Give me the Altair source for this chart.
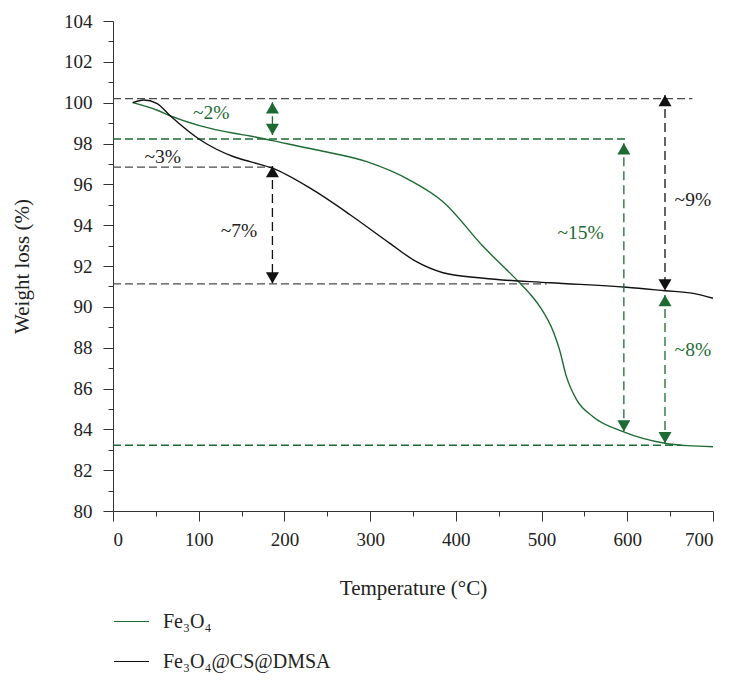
import altair as alt
import pandas as pd

FONT = "Liberation Serif"
GREEN = "#1d6a33"
BLACK = "#111111"
GRAY = "#4a4a4a"

# ---- curves ----
fe_temp = [23, 51, 67, 102, 141, 160, 186, 238, 296, 346, 385, 432, 475, 486, 498, 514, 521, 529, 541, 560, 595, 644, 670, 700]
fe_wt = [100.0, 99.64, 99.35, 98.86, 98.5, 98.37, 98.14, 97.68, 97.11, 96.21, 95.15, 92.95, 91.15, 90.66, 90.01, 88.75, 87.89, 86.58, 85.44, 84.62, 83.89, 83.32, 83.2, 83.15]

cs_temp = [23, 36, 51, 67, 102, 141, 160, 186, 230, 277, 323, 354, 385, 432, 510, 599, 644, 677, 700]
cs_wt = [100.0, 100.13, 99.97, 99.35, 98.17, 97.35, 97.11, 96.79, 95.81, 94.5, 93.11, 92.21, 91.67, 91.4, 91.18, 90.96, 90.79, 90.66, 90.42]

series_names = ["Fe\u2083O\u2084", "Fe\u2083O\u2084@CS@DMSA"]

# ---- annotations ----
# horizontal dashed reference lines (level, end temperature)
gray_h_level = [100.2, 96.84, 91.12]
gray_h_end = [676, 186, 506]
green_h_level = [98.22, 83.22]
green_h_end = [601, 663]

# vertical double arrows (temperature, top tip, bottom tip)
black_v_x = [186, 644]
black_v_top = [96.9, 100.38]
black_v_bot = [91.15, 90.8]
green_v_x = [186, 596, 644]
green_v_top = [100.02, 98.01, 90.58]
green_v_bot = [98.42, 83.89, 83.32]

# labels
black_lbl = ["~3%", "~7%", "~9%"]
black_lbl_x = [58, 147, 676.5]
black_lbl_y = [97.35, 93.73, 95.23]
green_lbl = ["~2%", "~15%", "~8%"]
green_lbl_x = [114.6, 545.5, 676.5]
green_lbl_y = [99.48, 93.6, 87.89]

curves = pd.concat([
    pd.DataFrame({"temp": fe_temp, "wt": fe_wt, "series": series_names[0]}),
    pd.DataFrame({"temp": cs_temp, "wt": cs_wt, "series": series_names[1]}),
])

x_scale = alt.Scale(domain=[0, 700], nice=False, zero=False)
y_scale = alt.Scale(domain=[80, 104], nice=False, zero=False)

x_axis = alt.Axis(
    values=list(range(0, 701, 50)),
    labelExpr="datum.value % 100 === 0 ? datum.label : ''",
    tickSize={"condition": {"test": "datum.value % 100 === 0", "value": 10}, "value": 5},
    grid=False, domainColor="#333333", tickColor="#333333",
    labelFont=FONT, labelFontSize=19, labelColor="#222222", labelPadding=9,
    titleFont=FONT, titleFontSize=21, titleFontWeight="normal", titleColor="#222222",
    titlePadding=28,
)
y_axis = alt.Axis(
    values=list(range(80, 105, 1)),
    labelExpr="datum.value % 2 === 0 ? datum.label : ''",
    tickSize={"condition": {"test": "datum.value % 2 === 0", "value": 10}, "value": 5},
    grid=False, domainColor="#333333", tickColor="#333333",
    labelFont=FONT, labelFontSize=19, labelColor="#222222", labelPadding=11,
    titleFont=FONT, titleFontSize=21, titleFontWeight="normal", titleColor="#222222",
    titlePadding=31,
)


def X(field="temp"):
    return alt.X(f"{field}:Q", scale=x_scale, axis=x_axis, title="Temperature (°C)")


def Y(field="wt"):
    return alt.Y(f"{field}:Q", scale=y_scale, axis=y_axis, title="Weight loss (%)")


lines = alt.Chart(curves).mark_line(strokeWidth=1.4, interpolate="monotone").encode(
    x=X(), y=Y(),
    color=alt.Color(
        "series:N",
        scale=alt.Scale(domain=series_names, range=[GREEN, BLACK]),
        legend=alt.Legend(
            orient="none", legendX=0, legendY=582, title=None,
            symbolType="stroke", symbolSize=1225, symbolStrokeWidth=1.2,
            labelFont=FONT, labelFontSize=20, labelColor="#222222", labelLimit=500,
            labelOffset=13, rowPadding=11, padding=0, direction="vertical",
        ),
    ),
    detail="series:N",
)


def hlines(levels, ends, color):
    df = pd.DataFrame({"wt": levels, "temp": [0] * len(levels), "temp2": ends})
    return alt.Chart(df).mark_rule(color=color, strokeDash=[8, 4], strokeWidth=1.3).encode(
        x=X(), x2="temp2:Q", y=Y()
    )


def varrows(xs, tops, bots, color):
    df = pd.DataFrame({"temp": xs, "wt": tops, "wt2": bots})
    rule = alt.Chart(df).mark_rule(color=color, strokeDash=[9, 5], strokeWidth=1.3).encode(
        x=X(), y=Y(), y2="wt2:Q"
    )
    up = alt.Chart(df).mark_point(
        shape="triangle-up", filled=True, size=169, yOffset=5.6, color=color, opacity=1, strokeWidth=0
    ).encode(x=X(), y=Y())
    down_df = pd.DataFrame({"temp": xs, "wt": bots})
    down = alt.Chart(down_df).mark_point(
        shape="triangle-down", filled=True, size=169, yOffset=-5.6, color=color, opacity=1, strokeWidth=0
    ).encode(x=X(), y=Y())
    return rule + up + down


def labels(texts, xs, ys, color):
    df = pd.DataFrame({"txt": texts, "temp": xs, "wt": ys})
    return alt.Chart(df).mark_text(
        font=FONT, fontSize=19.5, color=color, align="center", baseline="middle"
    ).encode(x=X(), y=Y(), text="txt:N")


chart = alt.layer(
    hlines(gray_h_level, gray_h_end, GRAY),
    hlines(green_h_level, green_h_end, GREEN),
    lines,
    varrows(black_v_x, black_v_top, black_v_bot, BLACK),
    varrows(green_v_x, green_v_top, green_v_bot, GREEN),
    labels(black_lbl, black_lbl_x, black_lbl_y, "#222222"),
    labels(green_lbl, green_lbl_x, green_lbl_y, GREEN),
).properties(
    width=600, height=490,
    autosize=alt.AutoSizeParams(type="none"),
    padding={"left": 113, "top": 21, "right": 17, "bottom": 177},
    background="white",
).configure_view(stroke=None)

chart.save("out.html", embed_options={"renderer": "svg", "actions": False})
